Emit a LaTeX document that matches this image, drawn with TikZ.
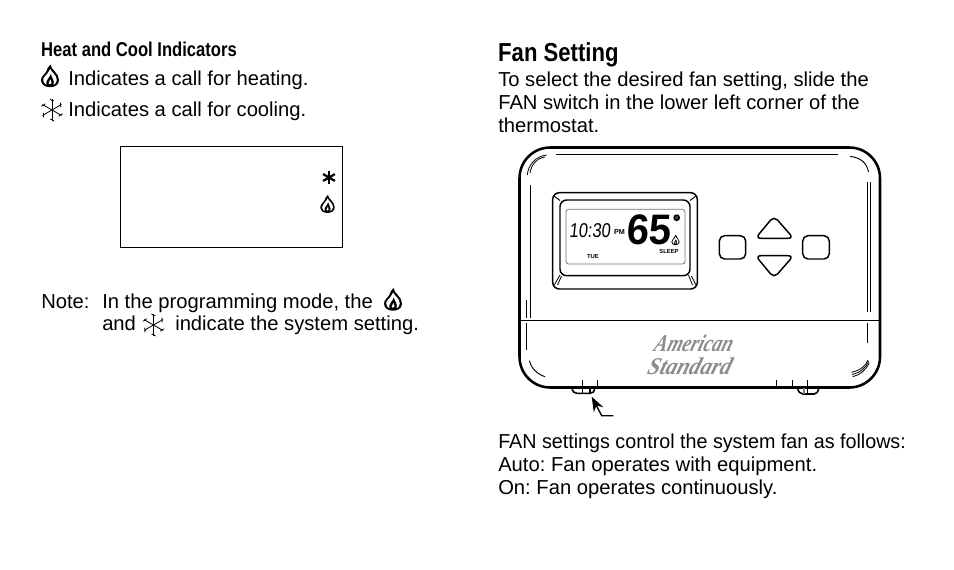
\documentclass[tikz,border=0pt]{standalone}
\usepackage{fontspec}
\setmainfont{Liberation Sans}
\usetikzlibrary{arrows.meta}
\newfontfamily\logofont{Liberation Serif}
\tikzset{
  body text/.style={anchor=base west,inner sep=0pt,font=\frenchspacing\fontsize{15.15pt}{17pt}\selectfont},
  heading/.style={anchor=base west,inner sep=0pt,font=\bfseries},
  thick line/.style={line width=1.9pt},
  thin line/.style={line width=1pt},
  lcd text/.style={inner sep=0pt,font=\bfseries\fontsize{4.4pt}{5pt}\selectfont},
  logo text/.style={anchor=base west,inner sep=0pt,text=black!45,xslant=0.3,font=\logofont\bfseries\itshape\fontsize{18pt}{18pt}\selectfont},
  pics/flame/.style={code={
    \fill[line join=round] (0.5,-11.5) .. controls (1,-6) and (9,-3) .. (9,4)
      .. controls (9,9) and (4.5,11.2) .. (0,11.2) .. controls (-4.5,11.2) and (-9,9) .. (-9,4)
      .. controls (-9,0) and (-4.5,-2) .. (-3.5,-5) .. controls (-3,-7) and (-1.5,-10) .. (0.5,-11.5) -- cycle;
    \fill[white] (0.2,-7) .. controls (1.5,-3.5) and (6.8,-1) .. (6.8,4)
      .. controls (6.8,6.5) and (5,8) .. (3.6,8.8) .. controls (5,4) and (1.5,1.5) .. (0.8,-2.5)
      .. controls (0,1.5) and (-5,4) .. (-3.6,8.8) .. controls (-5,8) and (-6.8,6.5) .. (-6.8,4)
      .. controls (-6.8,0.5) and (-2.5,-1.5) .. (-1.6,-4) .. controls (-1.2,-5) and (-.5,-6) .. (0.2,-7) -- cycle;
    \fill[white] (0.5,3.5) .. controls (0.9,5) and (1.8,6.2) .. (1.4,7.4) .. controls (0.8,8.4) and (-1,8.4) .. (-1.4,7.4)
      .. controls (-1.5,6.2) and (0.2,5) .. (0.5,3.5) -- cycle;
  }},
  pics/snowflake/.style={code={
    \foreach \a in {30,90,150,210,270,330}{
      \draw[line width=0.6pt] (0,0) -- (\a:11);
      \draw[line width=0.6pt] (\a:7.5) ++(\a+50:2.6) -- (\a:9.5) -- ++(\a-50:2.6);
    }
  }},
}
\begin{document}
\begin{tikzpicture}[x=0.75pt,y=-0.75pt]
  \useasboundingbox (0,0) rectangle (954,569);
  % left column
  \node[heading,xscale=.83,font=\bfseries\fontsize{15pt}{17pt}\selectfont] (heatTitle) at (41,56.5) {Heat and Cool Indicators};
  \pic at (50,76) {flame};
  \node[body text] (heatLine) at (68,85) {Indicates a call for heating.};
  \pic at (52,110) {snowflake};
  \node[body text] (coolLine) at (68,116) {Indicates a call for cooling.};
  \draw[line width=0.75pt] (120.5,146.5) rectangle (342.5,247.5);
  \foreach \a in {30,90,150}
    \draw[line width=1.7pt] (329,177.5) ++(\a:6.8) -- ++(\a+180:13.6);
  \pic[scale=.8] at (327.5,204) {flame};
  \node[body text] (noteLabel) at (41,308) {Note:};
  \node[body text] (noteOne) at (102,308) {In the programming mode, the};
  \pic at (393,299.5) {flame};
  \node[body text] (noteAnd) at (102,330) {and};
  \pic at (153.5,325) {snowflake};
  \node[body text] (noteTwo) at (175,330) {indicate the system setting.};
  % right column
  \node[heading,xscale=.85,font=\bfseries\fontsize{19.5pt}{22pt}\selectfont] (fanTitle) at (498,61) {Fan Setting};
  \node[body text] (fanOne) at (498,86) {To select the desired fan setting, slide the};
  \node[body text] (fanTwo) at (498,109) {FAN switch in the lower left corner of the};
  \node[body text] (fanThree) at (498,132) {thermostat.};
  \node[body text,xscale=.976] (autoIntro) at (498,448) {FAN settings control the system fan as follows:};
  \node[body text] (autoLine) at (498,471) {Auto: Fan operates with equipment.};
  \node[body text] (onLine) at (498,494) {On: Fan operates continuously.};
  % thermostat body
  \draw[thick line,rounded corners=23pt] (519.5,147.5) rectangle (880,387.5);
  \draw[thin line] (556,154.7) -- (838,154.7);
  \draw[thin line] (519.5,320.7) -- (880,320.7);
  \draw[thin line] (530.7,185) -- (530.7,318);
  \draw[thin line] (526.7,300) -- (526.7,318);
  \draw[thin line] (526.7,323) -- (526.7,350);
  \draw[thin line] (867.3,182) -- (867.3,312);
  \draw[thin line] (870.7,182) -- (870.7,312);
  \draw[thin line] (867.3,323) -- (867.3,343);
  % corner highlights
  \draw[line width=.6pt] (527.3,175) .. controls (528,165) and (536,156) .. (546.7,155);
  \draw[line width=.6pt] (530,173) .. controls (531,165) and (537,158) .. (545,157);
  \draw[line width=.7pt] (850,156.5) .. controls (860,157) and (867,163) .. (868.5,172);
  \draw[line width=.7pt] (529.3,360.7) .. controls (531,368) and (537,374) .. (545,376.7);
  \foreach \d in {0,2.2,4.4}
    \draw[line width=.6pt] (852.7-\d*.3,376.7-\d) .. controls (860,375-\d) and (866,370-\d) .. (869.3-\d*.3,362.7-\d*.6);
  % feet and ticks
  \draw[line width=1.2pt] (571.7,387.5) .. controls (573,392) and (574,393.3) .. (577,393.3) -- (590,393.3) .. controls (593,393.3) and (594,392) .. (595,387.5);
  \draw[thin line] (582.7,380) -- (582.7,393);
  \draw[thin line] (590,388) -- (590,393);
  \draw[thin line] (597.7,380) -- (597.7,387);
  \draw[line width=1.2pt] (797.3,387.5) .. controls (798.5,392) and (800,394) .. (803,394) -- (814,394) .. controls (817,394) and (818,392) .. (819,387.5);
  \draw[thin line] (776.7,380) -- (776.7,387);
  \draw[thin line] (792.7,380) -- (792.7,387);
  \draw[thin line] (807.3,380) -- (807.3,394);
  \draw[thin line,black!50] (804,388) -- (804,394);
  \coordinate (fanEnd) at (613.3,415.7);
  \coordinate (fanBend) at (601.7,415.7);
  \coordinate (fanTip) at (591.7,396.7);
  \draw[thin line,-{Stealth[length=11pt,width=8pt]}] (fanEnd) -- (fanBend) -- (fanTip);
  % display
  \draw[line width=1.1pt,rounded corners=5pt] (552.7,192.7) rectangle (697.3,289);
  \draw[line width=1.1pt,rounded corners=5pt] (560,200) rectangle (690,275.7);
  \draw[black!55,line width=.6pt,rounded corners=2pt] (566,209.3) rectangle (685,264);
  \draw[line width=.7pt] (554,196) -- (560,200.5);
  \draw[line width=.7pt] (696,196) -- (690,200.5);
  \draw[line width=.6pt] (554.3,285) -- (560,275);
  \draw[line width=.6pt] (557.5,285) -- (561.5,276);
  \draw[line width=.6pt] (688.5,275) -- (692.5,285);
  \draw[line width=.6pt] (691.5,276) -- (696,285);
  \node[anchor=base west,inner sep=0pt,xscale=.82,xslant=.12,font=\fontsize{15pt}{15pt}\selectfont] (clockText) at (569,237) {10:30};
  \node[inner sep=0pt,font=\bfseries\fontsize{5.4pt}{6pt}\selectfont] (pmText) at (619.5,232.5) {PM};
  \node[anchor=base west,inner sep=0pt,xscale=.94,xslant=.06,font=\bfseries\fontsize{32pt}{32pt}\selectfont] (tempText) at (626,244.5) {65};
  \draw[line width=1.1pt,fill=black!75] (676.7,217.7) circle (2.6);
  \pic[scale=.46] at (675.5,240) {flame};
  \node[lcd text] (sleepText) at (669,251.5) {SLEEP};
  \node[lcd text] (dayText) at (593,257) {TUE};
  % buttons
  \draw[line width=1.1pt,rounded corners=4pt] (719.3,235.7) rectangle (745.7,259);
  \draw[line width=1.1pt,rounded corners=4pt] (802.7,235.7) rectangle (829.3,259);
  \draw[line width=1.1pt,rounded corners=4pt] (774,216) -- (793.5,238.3) -- (755.5,238.3) -- cycle;
  \draw[line width=1.1pt,rounded corners=4pt] (774,278) -- (793.5,255.7) -- (755.5,255.7) -- cycle;
  % logo
  \node[logo text,xscale=.8] (logoOne) at (653,351.5) {American};
  \node[logo text,xscale=.92] (logoTwo) at (646,374) {Standard};
\end{tikzpicture}
\end{document}
